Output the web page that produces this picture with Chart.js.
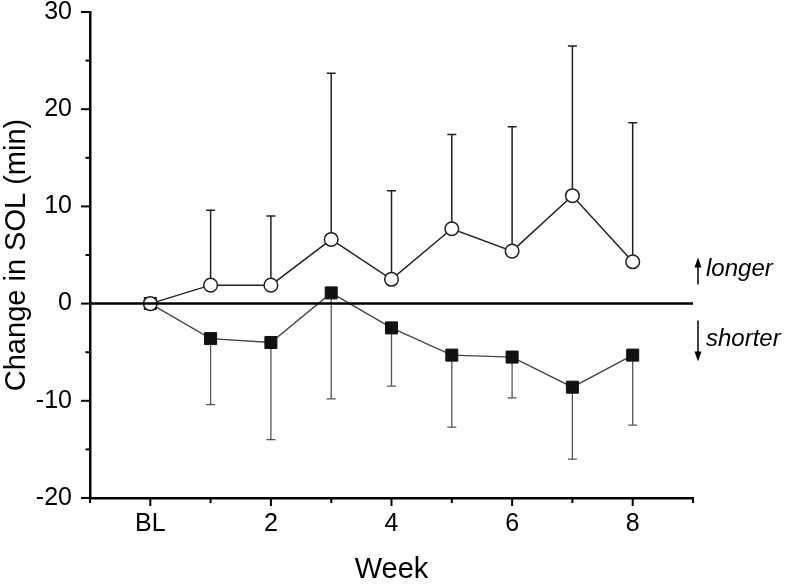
<!DOCTYPE html>
<html>
<head>
<meta charset="utf-8">
<script src="https://cdn.jsdelivr.net/npm/chart.js@4/dist/chart.umd.min.js"></script>
<style>
  html, body { margin: 0; padding: 0; background: #fff; }
  #wrap { width: 787px; height: 584px; }
</style>
</head>
<body>
<div id="wrap"><canvas id="myChart"></canvas></div>
<script>
// values (change in SOL, minutes)
const weeks = [0, 1, 2, 3, 4, 5, 6, 7, 8];
const longerMean = [0, 1.9, 1.9, 6.6, 2.5, 7.7, 5.4, 11.1, 4.3];
const longerUpper = [null, 9.6, 9.0, 23.7, 11.6, 17.4, 18.2, 26.5, 18.6];
const shorterMean = [0, -3.6, -4.0, 1.1, -2.5, -5.3, -5.5, -8.6, -5.3];
const shorterLower = [null, -10.4, -14.0, -9.8, -8.5, -12.7, -9.7, -16.0, -12.5];

const FONT = "'Liberation Sans', Arial, sans-serif";

function points(vals) {
  return weeks.map((w, i) => ({ x: w, y: vals[i] }));
}

const errorBars = {
  id: 'errorBars',
  beforeDatasetsDraw(chart) {
    const ctx = chart.ctx;
    const xs = chart.scales.x, ys = chart.scales.y;
    const sets = [
      { mean: shorterMean, end: shorterLower, color: '#555', width: 1.3 },
      { mean: longerMean, end: longerUpper, color: '#222', width: 1.5 }
    ];
    ctx.save();
    sets.forEach(s => {
      ctx.strokeStyle = s.color;
      ctx.lineWidth = s.width;
      weeks.forEach((w, i) => {
        if (s.end[i] == null) return;
        const x = xs.getPixelForValue(w);
        const y0 = ys.getPixelForValue(s.mean[i]);
        const y1 = ys.getPixelForValue(s.end[i]);
        ctx.beginPath();
        ctx.moveTo(x, y0);
        ctx.lineTo(x, y1);
        ctx.moveTo(x - 4.5, y1);
        ctx.lineTo(x + 4.5, y1);
        ctx.stroke();
      });
    });
    ctx.restore();
  },
  afterDatasetsDraw(chart) {
    const ctx = chart.ctx;
    const area = chart.chartArea;
    const y0 = chart.scales.y.getPixelForValue(0);
    ctx.save();
    ctx.strokeStyle = '#000';
    ctx.lineWidth = 2.5;
    ctx.beginPath();
    ctx.moveTo(area.left, y0);
    ctx.lineTo(area.right, y0);
    ctx.stroke();
    ctx.restore();
  },
  afterDraw(chart) {
    const ctx = chart.ctx;
    const area = chart.chartArea;
    const xs = chart.scales.x, ys = chart.scales.y;
    ctx.save();
    ctx.strokeStyle = '#000';
    ctx.lineWidth = 2;
    // y ticks: long at labelled values, short in between
    ys.ticks.forEach(t => {
      const y = ys.getPixelForValue(t.value);
      const len = t.value % 10 === 0 ? 9 : 4.5;
      ctx.beginPath();
      ctx.moveTo(area.left, y);
      ctx.lineTo(area.left - len, y);
      ctx.stroke();
    });
    xs.ticks.forEach(t => {
      const x = xs.getPixelForValue(t.value);
      const len = (t.value >= 0 && t.value % 2 === 0) ? 8 : 5;
      ctx.beginPath();
      ctx.moveTo(x, area.bottom);
      ctx.lineTo(x, area.bottom + len);
      ctx.stroke();
    });

    // direction notes
    const y0 = ys.getPixelForValue(0);
    const ax = area.right + 5;
    ctx.lineWidth = 1.5;
    ctx.fillStyle = '#000';
    ctx.beginPath();
    ctx.moveTo(ax, y0 - 19);
    ctx.lineTo(ax, y0 - 38);
    ctx.moveTo(ax, y0 + 17);
    ctx.lineTo(ax, y0 + 50);
    ctx.stroke();
    ctx.beginPath();
    ctx.moveTo(ax, y0 - 46);
    ctx.lineTo(ax - 3.5, y0 - 36);
    ctx.lineTo(ax + 3.5, y0 - 36);
    ctx.closePath();
    ctx.fill();
    ctx.beginPath();
    ctx.moveTo(ax, y0 + 58);
    ctx.lineTo(ax - 3.5, y0 + 48);
    ctx.lineTo(ax + 3.5, y0 + 48);
    ctx.closePath();
    ctx.fill();
    ctx.font = 'italic 24px ' + FONT;
    ctx.textBaseline = 'alphabetic';
    ctx.textAlign = 'left';
    ctx.fillText('longer', area.right + 13, y0 - 28);
    ctx.fillText('shorter', area.right + 13, y0 + 42);
    ctx.restore();
  }
};

const ctx = document.getElementById('myChart').getContext('2d');
const myChart = new Chart(ctx, {
  type: 'line',
  data: {
    datasets: [
      {
        label: 'longer',
        data: points(longerMean),
        order: 0,
        borderColor: '#222',
        borderWidth: 1.5,
        pointStyle: 'circle',
        pointRadius: 6.8,
        pointBorderWidth: 1.5,
        pointBorderColor: '#222',
        pointBackgroundColor: '#fff',
        tension: 0
      },
      {
        label: 'shorter',
        data: points(shorterMean),
        order: 1,
        borderColor: '#444',
        borderWidth: 1.3,
        pointStyle: 'rect',
        pointRadius: 8.5,
        pointBorderWidth: 1,
        pointBorderColor: '#111',
        pointBackgroundColor: '#111',
        tension: 0
      }
    ]
  },
  options: {
    responsive: true,
    maintainAspectRatio: false,
    animation: false,
    layout: { padding: { top: 12, right: 94, left: 0, bottom: 0 } },
    plugins: {
      legend: { display: false },
      tooltip: { enabled: false }
    },
    scales: {
      x: {
        type: 'linear',
        min: -1,
        max: 9,
        afterFit(scale) {
          scale.height = 86;
          scale.paddingLeft = 0;
          scale.paddingRight = 0;
        },
        grid: { display: false, drawTicks: false },
        border: { display: true, color: '#000', width: 2.5 },
        ticks: {
          stepSize: 1,
          autoSkip: false,
          maxRotation: 0,
          padding: 11,
          color: '#000',
          font: { family: FONT, size: 25 },
          callback: v => (v === 0 ? 'BL' : (v > 0 && v % 2 === 0 ? String(v) : ''))
        },
        title: {
          display: true,
          text: 'Week',
          color: '#000',
          padding: { top: 0, bottom: 0 },
          font: { family: FONT, size: 29, lineHeight: 1 }
        }
      },
      y: {
        min: -20,
        max: 30,
        afterFit(scale) {
          scale.width = 90;
          scale.paddingTop = 0;
          scale.paddingBottom = 0;
        },
        grid: { display: false, drawTicks: false },
        border: { display: true, color: '#000', width: 2.5 },
        ticks: {
          stepSize: 5,
          autoSkip: false,
          padding: 18,
          color: '#000',
          font: { family: FONT, size: 25 },
          callback: v => (v % 10 === 0 ? String(v) : '')
        },
        title: {
          display: true,
          text: 'Change in SOL (min)',
          color: '#000',
          padding: { top: 1, bottom: 0 },
          font: { family: FONT, size: 29, lineHeight: 1.1 }
        }
      }
    }
  },
  plugins: [errorBars]
});
</script>
</body>
</html>
